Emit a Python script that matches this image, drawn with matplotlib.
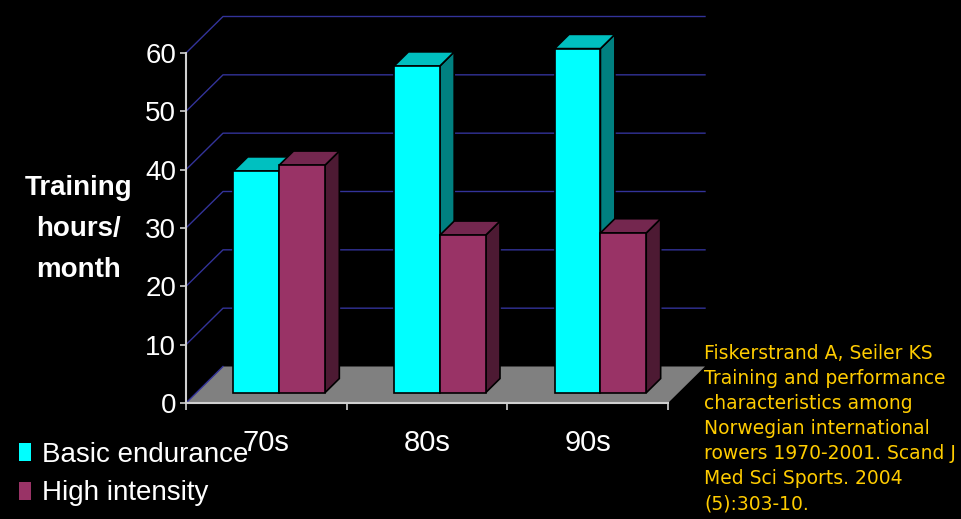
import numpy as np
import matplotlib
matplotlib.use('Agg')
import matplotlib.pyplot as plt
from matplotlib.patches import Polygon, Patch

# training volume per decade (hours / month)
decades = ['70s', '80s', '90s']
basic_endurance = [38, 56, 59]
high_intensity = [39, 27, 27.4]
series_names = ['Basic endurance', 'High intensity']
y_ticks = [0, 10, 20, 30, 40, 50, 60]

citation = ('Fiskerstrand A, Seiler KS\n'
            'Training and performance\n'
            'characteristics among\n'
            'Norwegian international\n'
            'rowers 1970-2001. Scand J\n'
            'Med Sci Sports. 2004\n'
            '(5):303-10.')

# face colours: front, top, side
colors = [('#00FFFF', '#00C0C0', '#008080'),
          ('#993366', '#74274F', '#4D1A33')]

narrow = ['Liberation Sans Narrow', 'Liberation Sans', 'DejaVu Sans']

W, H = 961, 519
fig = plt.figure(figsize=(W / 100, H / 100), dpi=100, facecolor='black')
ax = fig.add_axes([0, 0, 1, 1])
ax.set_facecolor('black')

# front plane: x=0..3 -> px 186..668, y=0..60 -> px 403..53
px_x = (668 - 186) / 3.0
px_y = (403 - 53) / 60.0
xmin = -186 / px_x
ymin = -(H - 403) / px_y
ax.set_xlim(xmin, xmin + W / px_x)
ax.set_ylim(ymin, ymin + H / px_y)

# depth of the floor in data units
DX = 37 / px_x
DY = 36.5 / px_y

def proj(x, y, t):
    return (x + t * DX, y + t * DY)

# gridlines on the left wall and back wall
grid_c = '#333399'
for v in y_ticks[1:]:
    ax.plot([0, DX, 3 + DX], [v, v + DY, v + DY], color=grid_c, lw=1, zorder=1)
ax.plot([0, DX], [0, DY], color=grid_c, lw=1, zorder=1.6)

# floor
floor = Polygon([proj(0, 0, 0), proj(3, 0, 0), proj(3, 0, 1), proj(0, 0, 1)],
                closed=True, facecolor='#808080', edgecolor='none', zorder=1.5)
ax.add_patch(floor)

# bars
bw = 0.285
t0, t1 = 0.28, 0.67
data = [basic_endurance, high_intensity]
for i in range(len(decades)):
    for j, vals in enumerate(data):
        v = vals[i]
        x0 = i + 0.23 + j * bw
        x1 = x0 + bw
        z = 3 + (i * 2 + j) * 3
        front, top, side = colors[j]
        side_poly = Polygon([proj(x1, 0, t0), proj(x1, 0, t1), proj(x1, v, t1), proj(x1, v, t0)],
                            closed=True, facecolor=side, edgecolor='black', lw=1.2, zorder=z)
        top_poly = Polygon([proj(x0, v, t0), proj(x1, v, t0), proj(x1, v, t1), proj(x0, v, t1)],
                           closed=True, facecolor=top, edgecolor='black', lw=1.2, zorder=z + 1)
        ax.add_patch(side_poly)
        ax.add_patch(top_poly)
        ax.bar(x0 + t0 * DX, v, bw, bottom=t0 * DY, align='edge',
               color=front, edgecolor='black', lw=1.2, zorder=z + 2)

# axes
for s in ['top', 'right']:
    ax.spines[s].set_visible(False)
ax.spines['left'].set_position(('data', 0))
ax.spines['bottom'].set_position(('data', 0))
ax.spines['left'].set_bounds(0, 60)
ax.spines['bottom'].set_bounds(0, 3)
for s in ['left', 'bottom']:
    ax.spines[s].set_color('#D0D0D0')
    ax.spines[s].set_linewidth(1.5)

ax.set_yticks(y_ticks)
ax.set_yticklabels([str(t) for t in y_ticks])
ax.tick_params(axis='y', colors='#D0D0D0', labelcolor='white', length=4, width=1.2,
               pad=3, labelsize=20)
ax.set_xticks([0, 1, 2, 3])
ax.set_xticklabels([])
ax.tick_params(axis='x', which='major', colors='#D0D0D0', length=5, width=1.2)
ax.set_xticks([0.5, 1.5, 2.5], decades, minor=True)
ax.tick_params(axis='x', which='minor', length=0, pad=19, labelcolor='white', labelsize=21)
for lab in ax.get_xticklabels(minor=True) + ax.get_yticklabels():
    lab.set_family(narrow)

fig.text(79 / W, 1 - 229 / H, 'Training\nhours/\nmonth', color='white', fontsize=20,
         fontweight='bold', family=narrow, ha='center', va='center',
         multialignment='center', linespacing=1.75)

handles = [Patch(facecolor=colors[k][0], edgecolor='none') for k in range(2)]
fig.legend(handles, series_names, loc='upper left', bbox_to_anchor=(19 / W, 1 - 442 / H),
           frameon=False, prop={'family': narrow, 'size': 20}, labelcolor='white',
           handlelength=0.42, handleheight=0.6, handletextpad=0.4, labelspacing=0.45,
           borderaxespad=0, borderpad=0)

fig.text(704 / W, 1 - 344 / H, citation, color='#FFCC00', fontsize=13.5,
         family='DejaVu Sans', ha='left', va='top', linespacing=1.4)

fig.savefig('out.png', dpi=100, facecolor='black')
